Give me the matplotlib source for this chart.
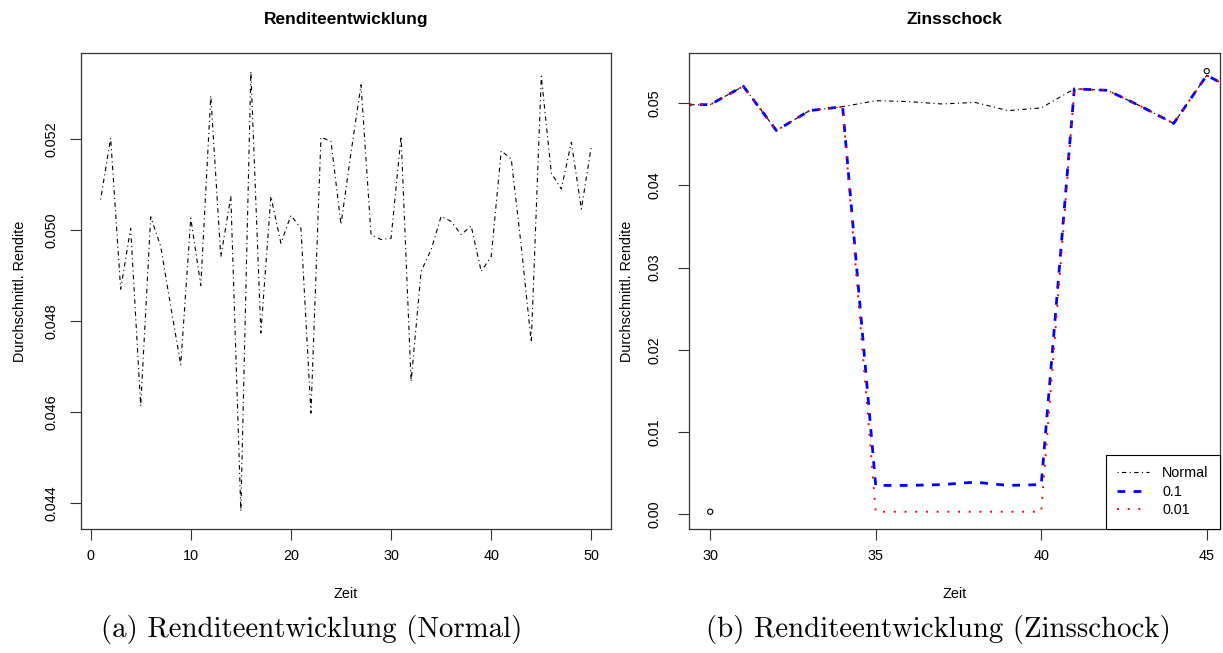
import matplotlib
matplotlib.use('Agg')
import matplotlib.pyplot as plt
import numpy as np

# Durchschnittliche Rendite, Zeit 1..50 (Normalverlauf)
zeit = list(range(1, 51))
rendite = [
    0.05067, 0.05202, 0.04870, 0.05004, 0.04613, 0.05029, 0.04964, 0.04832, 0.04704, 0.05026,
    0.04878, 0.05295, 0.04941, 0.05074, 0.04382, 0.05349, 0.04774, 0.05074, 0.04971, 0.05032,
    0.05004, 0.04598, 0.05204, 0.05195, 0.05012, 0.05170, 0.05319, 0.04990, 0.04979, 0.04982,
    0.05206, 0.04667, 0.04909, 0.04957, 0.05030, 0.05019, 0.04990, 0.05009, 0.04909, 0.04942,
    0.05174, 0.05156, 0.04964, 0.04753, 0.05338, 0.05125, 0.05090, 0.05193, 0.05046, 0.05185,
]

# Zinsschock zwischen Zeit 35 und 40
schock_zeit = [35, 36, 37, 38, 39, 40]
schock_01 = [0.0035, 0.0035, 0.0036, 0.0039, 0.0035, 0.0036]
schock_001 = [0.0003, 0.0003, 0.0003, 0.0003, 0.0003, 0.0003]
# Punkte aus dem Aufruf von plot() (Achsenbereich)
punkt_x = [30, 45]
punkt_y = [0.0003, 0.0539]

rendite_01 = list(rendite)
rendite_001 = list(rendite)
for t, a, b in zip(schock_zeit, schock_01, schock_001):
    rendite_01[t - 1] = a
    rendite_001[t - 1] = b

plt.rcParams['font.family'] = ['Liberation Sans', 'DejaVu Sans']
base = 10.4

fig = plt.figure(figsize=(12.23, 6.53), dpi=100)
W, H = 1223, 653
ax1 = fig.add_axes([81 / W, (H - 529) / H, 530 / W, 476 / H])
ax2 = fig.add_axes([689 / W, (H - 529) / H, 531 / W, 476 / H])

dotdash = (0, (1, 3, 4, 3))

# (a) Normal
ax1.plot(zeit, rendite, color='black', lw=0.8, linestyle=dotdash)
ax1.set_xlim(-0.96, 51.96)
ax1.set_ylim(0.04343, 0.05389)
ax1.set_xticks([0, 10, 20, 30, 40, 50])
ax1.set_yticks([0.044, 0.046, 0.048, 0.050, 0.052])
ax1.set_yticklabels(['0.044', '0.046', '0.048', '0.050', '0.052'],
                    rotation=90, va='center')
ax1.set_title('Renditeentwicklung', fontsize=base * 1.2, fontweight='bold', pad=21)

# (b) Zinsschock
ax2.plot(zeit, rendite, color='black', lw=0.8, linestyle=dotdash, label='Normal')
ax2.plot(zeit, rendite_01, color='blue', lw=2.0, linestyle=(0, (2.8, 3)), label='0.1')
ax2.plot(zeit, rendite_001, color='red', lw=1.4, linestyle=(0, (1, 4.5)), label='0.01')
ax2.scatter(punkt_x, punkt_y, s=14, facecolors='none', edgecolors='black', linewidths=0.8, zorder=5)
ax2.set_xlim(29.36, 45.4)
ax2.set_ylim(-0.0018, 0.0561)
ax2.set_xticks([30, 35, 40, 45])
ax2.set_yticks([0.00, 0.01, 0.02, 0.03, 0.04, 0.05])
ax2.set_yticklabels(['0.00', '0.01', '0.02', '0.03', '0.04', '0.05'],
                    rotation=90, va='center')
ax2.set_title('Zinsschock', fontsize=base * 1.2, fontweight='bold', pad=21)
leg = ax2.legend(loc='lower right', borderaxespad=0, fancybox=False, framealpha=1,
                 edgecolor='black', fontsize=base, handlelength=2.2, handletextpad=0.9,
                 labelspacing=0.32, borderpad=0.8)
leg.get_frame().set_linewidth(0.8)

for ax, ypad, ylpad in ((ax1, 8, 12.5), (ax2, 12, 9.5)):
    ax.tick_params(axis='both', labelsize=base, length=8, width=0.8, color='#333333')
    ax.tick_params(axis='x', pad=6.5)
    ax.tick_params(axis='y', pad=ypad)
    ax.set_xlabel('Zeit', fontsize=base, labelpad=17)
    ax.set_ylabel('Durchschnittl. Rendite', fontsize=base, labelpad=ylpad)
    for s in ax.spines.values():
        s.set_linewidth(0.9)
        s.set_color('#333333')

fig.text(312 / W, 1 - 630 / H, '(a) Renditeentwicklung (Normal)', family='cmr10',
         fontsize=20.8, ha='center', va='center')
fig.text(938 / W, 1 - 630 / H, '(b) Renditeentwicklung (Zinsschock)', family='cmr10',
         fontsize=20.8, ha='center', va='center')

fig.savefig('out.png', dpi=100)
